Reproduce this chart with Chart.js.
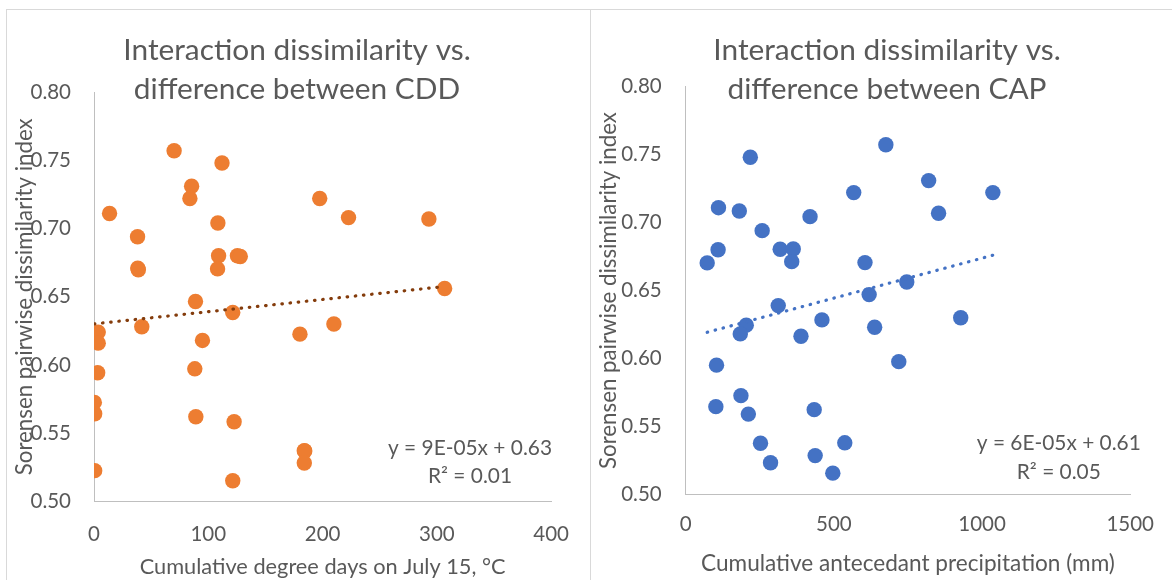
<!DOCTYPE html>
<html>
<head>
<meta charset="utf-8">
<script src="https://cdn.jsdelivr.net/npm/chart.js@4.4.1/dist/chart.umd.min.js"></script>
<style>
  html, body { margin: 0; padding: 0; background: #ffffff; }
  body { width: 1172px; height: 580px; position: relative; overflow: hidden; }
  canvas { position: absolute; top: 0; }
  .ln { position: absolute; background: #d9d9d9; }
</style>
</head>
<body>
<div class="ln" style="left:6px;top:9px;width:1166px;height:1px;"></div>
<div class="ln" style="left:6px;top:9px;width:1px;height:571px;"></div>
<div class="ln" style="left:590px;top:9px;width:1px;height:571px;"></div>
<canvas id="cL" width="590" height="580" style="left:0px;"></canvas>
<canvas id="cR" width="582" height="580" style="left:590px;"></canvas>
<script>
// ---- Data ----
const cddX = [70.1, 112, 85.4, 83.9, 197.5, 13.6, 222.7, 293, 108.4, 38.1,
              109, 125.5, 128, 38.3, 38.8, 108.1, 306.8, 88.8, 121.4, 209.9,
              41.8, 3.7, 3.7, 180.2, 94.9, 3.2, 88.2, 0.3, 0.6, 89.1,
              122.6, 184, 184.4, 184, 0.6, 121.4];
const cddY = [0.757, 0.748, 0.731, 0.722, 0.722, 0.711, 0.708, 0.707, 0.704, 0.694,
              0.680, 0.680, 0.6795, 0.671, 0.6698, 0.6704, 0.656, 0.6465, 0.6385, 0.630,
              0.628, 0.6241, 0.616, 0.6226, 0.618, 0.5943, 0.5972, 0.5726, 0.5643, 0.5621,
              0.5584, 0.5372, 0.537, 0.5282, 0.5226, 0.5152];

const capX = [675.4, 218, 819.8, 567, 1036.5, 110.6, 180.9, 853.3, 419.6, 258,
              109.3, 318.8, 363, 72.5, 357.8, 605, 746, 619, 312.3, 928,
              459.7, 204.3, 184.2, 637.6, 389, 719, 104, 186.4, 101.8, 433.6,
              211.4, 252.4, 536.8, 286.3, 436.9, 496.4];
const capY = [0.7572, 0.748, 0.7308, 0.722, 0.722, 0.7109, 0.7085, 0.7068, 0.7043, 0.694,
              0.680, 0.6803, 0.6805, 0.6703, 0.6712, 0.6705, 0.6563, 0.647, 0.6389, 0.630,
              0.6284, 0.6245, 0.6181, 0.623, 0.6164, 0.5977, 0.5951, 0.5727, 0.5646, 0.5624,
              0.5591, 0.5377, 0.538, 0.5233, 0.5286, 0.5157];

const yTicks = [0.50, 0.55, 0.60, 0.65, 0.70, 0.75, 0.80];
const cddTicks = [0, 100, 200, 300, 400];
const capTicks = [0, 500, 1000, 1500];

const titleLeft = ["Interaction dissimilarity vs.", "difference between CDD"];
const titleRight = ["Interaction dissimilarity vs.", "difference between CAP"];
const xTitleLeft = "Cumulative degree days on July 15, °C";
const xTitleRight = "Cumulative antecedant precipitation (mm)";
const yTitle = "Sorensen pairwise dissimilarity index";
const eqLeft = ["y = 9E-05x + 0.63", "R² = 0.01"];
const eqRight = ["y = 6E-05x + 0.61", "R² = 0.05"];

// ---- helpers ----
const FONT = "Lato";
const TXT = "#595959";

function linFit(xs, ys) {
  const n = xs.length;
  let mx = 0, my = 0;
  for (let i = 0; i < n; i++) { mx += xs[i]; my += ys[i]; }
  mx /= n; my /= n;
  let sxy = 0, sxx = 0;
  for (let i = 0; i < n; i++) { sxy += (xs[i] - mx) * (ys[i] - my); sxx += (xs[i] - mx) ** 2; }
  const b = sxy / sxx, a = my - b * mx;
  const x0 = Math.min(...xs), x1 = Math.max(...xs);
  return [{x: x0, y: a + b * x0}, {x: x1, y: a + b * x1}];
}
function pts(xs, ys) { return xs.map((x, i) => ({x: x, y: ys[i]})); }
function fit(ctx, text, target) {
  ctx.font = "100px " + FONT;
  return 100 * target / ctx.measureText(text).width;
}
function drawText(ctx, text, x, y, size, rot) {
  ctx.save();
  ctx.font = size.toFixed(2) + "px " + FONT;
  ctx.fillStyle = TXT;
  ctx.textAlign = "center";
  ctx.textBaseline = "middle";
  ctx.translate(x, y);
  if (rot) ctx.rotate(rot);
  ctx.fillText(text, 0, 0);
  ctx.restore();
}

function makeChart(id, cfg) {
  const textPlugin = {
    id: "texts",
    afterDraw(chart) {
      const ctx = chart.ctx;
      const ts = fit(ctx, cfg.title[0], 347.5);
      drawText(ctx, cfg.title[0], cfg.titleX, 50, ts);
      drawText(ctx, cfg.title[1], cfg.titleX, 89, ts);
      const ca = chart.chartArea;
      const xs = fit(ctx, cfg.xTitle, cfg.xTitleW);
      drawText(ctx, cfg.xTitle, (ca.left + ca.right) / 2, cfg.xTitleY, xs);
      const ys = fit(ctx, yTitle, 357);
      drawText(ctx, yTitle, cfg.yTitleX, (ca.top + ca.bottom) / 2, ys, -Math.PI / 2);
      const es = fit(ctx, cfg.eq[0], 164);
      drawText(ctx, cfg.eq[0], cfg.eqX, cfg.eqY[0], es);
      drawText(ctx, cfg.eq[1], cfg.eqX, cfg.eqY[1], es);
    }
  };
  const tickFont = {family: FONT, size: 20.5};
  return new Chart(document.getElementById(id), {
    type: "scatter",
    data: {
      datasets: [
        {
          type: "line",
          data: linFit(cfg.xs, cfg.ys),
          borderColor: cfg.trendColor,
          borderWidth: 3.2,
          borderDash: [0.5, 7.7],
          borderCapStyle: "round",
          pointRadius: 0,
          fill: false,
          order: 0
        },
        {
          data: pts(cfg.xs, cfg.ys),
          backgroundColor: cfg.color,
          borderColor: cfg.color,
          borderWidth: 0,
          pointRadius: 7.7,
          order: 1
        }
      ]
    },
    options: {
      responsive: false,
      animation: false,
      events: [],
      layout: {padding: {left: 0, top: cfg.top, right: cfg.right, bottom: 0}},
      plugins: {legend: {display: false}, tooltip: {enabled: false}, title: {display: false}},
      scales: {
        x: {
          type: "linear",
          min: cfg.xTicks[0],
          max: cfg.xTicks[cfg.xTicks.length - 1],
          afterBuildTicks: s => { s.ticks = cfg.xTicks.map(v => ({value: v})); },
          ticks: {font: tickFont, color: TXT, padding: cfg.xPad, maxRotation: 0, callback: v => String(v)},
          grid: {display: false, drawTicks: false},
          border: {display: true, color: "#bfbfbf", width: 1},
          afterFit: s => { s.height = cfg.xH; }
        },
        y: {
          type: "linear",
          min: yTicks[0],
          max: yTicks[yTicks.length - 1],
          afterBuildTicks: s => { s.ticks = yTicks.map(v => ({value: v})); },
          ticks: {font: tickFont, color: TXT, padding: cfg.yPad, callback: v => Number(v).toFixed(2)},
          grid: {display: false, drawTicks: false},
          border: {display: true, color: "#bfbfbf", width: 1},
          afterFit: s => { s.width = cfg.yW; }
        }
      }
    },
    plugins: [textPlugin]
  });
}

makeChart("cL", {
  xs: cddX, ys: cddY, color: "#ED7D31", trendColor: "#843C0C",
  xTicks: cddTicks, top: 92, right: 33.5, xH: 78.5, yW: 94, xPad: 21, yPad: 23,
  title: titleLeft, titleX: 297, xTitle: xTitleLeft, xTitleW: 366, xTitleY: 566.7,
  yTitleX: 25, eq: eqLeft, eqX: 470, eqY: [448, 476.7]
});
makeChart("cR", {
  xs: capX, ys: capY, color: "#4472C4", trendColor: "#4472C4",
  xTicks: capTicks, top: 86.5, right: 26, xH: 85.5, yW: 95.7, xPad: 18, yPad: 24,
  title: titleRight, titleX: 297, xTitle: xTitleRight, xTitleW: 414, xTitleY: 563.3,
  yTitleX: 19, eq: eqRight, eqX: 468.8, eqY: [443.3, 472.3]
});
</script>
</body>
</html>
